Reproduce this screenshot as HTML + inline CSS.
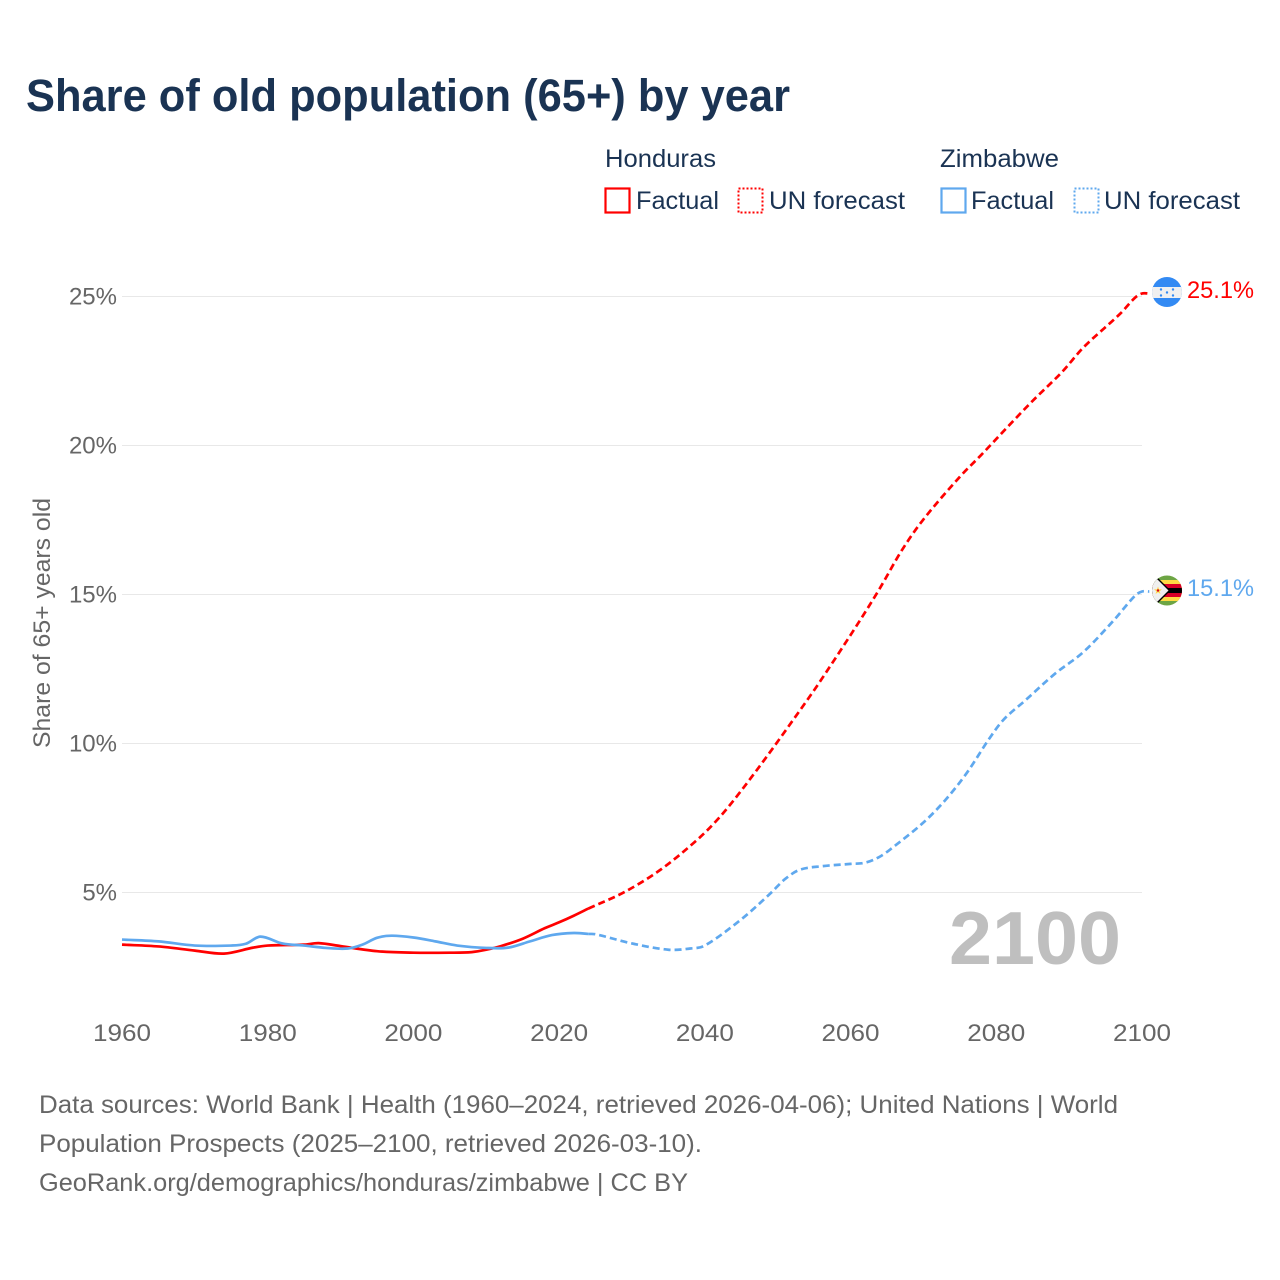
<!DOCTYPE html>
<html lang="en">
<head>
<meta charset="utf-8">
<title>Share of old population (65+) by year</title>
<style>
html,body{margin:0;padding:0;background:#fff;}
svg{display:block;font-family:"Liberation Sans",sans-serif;}
</style>
</head>
<body>
<svg id="chart" xmlns="http://www.w3.org/2000/svg" width="1280" height="1280" viewBox="0 0 1280 1280">
  <defs>
    <clipPath id="clip-hn"><circle cx="1167" cy="292" r="15"/></clipPath>
    <clipPath id="clip-zw"><circle cx="1167" cy="590.5" r="15"/></clipPath>
  </defs>
  <rect x="0" y="0" width="1280" height="1280" fill="#fff"/>
  <text x="26" y="111" font-size="45" font-weight="700" fill="#1a3353" textLength="764" lengthAdjust="spacingAndGlyphs">Share of old population (65+) by year</text>

  <g font-size="25" fill="#1a3353">
    <text x="605" y="167" textLength="111" lengthAdjust="spacingAndGlyphs">Honduras</text>
    <text x="940" y="167" textLength="119" lengthAdjust="spacingAndGlyphs">Zimbabwe</text>
    <rect x="605.5" y="188.5" width="24" height="24" fill="none" stroke="#ff0000" stroke-width="2.2"/>
    <text x="636" y="209" textLength="83" lengthAdjust="spacingAndGlyphs">Factual</text>
    <rect x="738.5" y="188.5" width="24" height="24" fill="none" stroke="#ff0000" stroke-width="2" stroke-dasharray="2 2"/>
    <text x="769" y="209" textLength="136" lengthAdjust="spacingAndGlyphs">UN forecast</text>
    <rect x="941.5" y="188.5" width="24" height="24" fill="none" stroke="#5fa8ee" stroke-width="2.2"/>
    <text x="971" y="209" textLength="83" lengthAdjust="spacingAndGlyphs">Factual</text>
    <rect x="1074.5" y="188.5" width="24" height="24" fill="none" stroke="#5fa8ee" stroke-width="2" stroke-dasharray="2 2"/>
    <text x="1104" y="209" textLength="136" lengthAdjust="spacingAndGlyphs">UN forecast</text>
  </g>

  <g id="grid"></g>
  <g id="yticks" font-size="24" fill="#666" text-anchor="end"></g>
  <g id="xticks" font-size="24" fill="#666" text-anchor="middle"></g>
  <text transform="translate(50,748) rotate(-90)" font-size="24" fill="#666" textLength="250" lengthAdjust="spacingAndGlyphs">Share of 65+ years old</text>
  <text x="949" y="964" font-size="75" font-weight="700" fill="#bfbfbf" textLength="172" lengthAdjust="spacingAndGlyphs">2100</text>

  <g id="series"></g>

  <g clip-path="url(#clip-hn)">
    <rect x="1152" y="277" width="30" height="30" fill="#338af3"/>
    <rect x="1152" y="287" width="30" height="11" fill="#f0f0f0"/>
    <circle cx="1167" cy="292.5" r="1.2" fill="#338af3"/>
    <circle cx="1161" cy="289.5" r="1.2" fill="#338af3"/>
    <circle cx="1173" cy="289.5" r="1.2" fill="#338af3"/>
    <circle cx="1161" cy="295.5" r="1.2" fill="#338af3"/>
    <circle cx="1173" cy="295.5" r="1.2" fill="#338af3"/>
  </g>
  <g clip-path="url(#clip-zw)">
    <rect x="1152" y="575" width="30" height="31" fill="#6da544"/>
    <rect x="1152" y="580" width="30" height="21" fill="#ffda44"/>
    <rect x="1152" y="584" width="30" height="13" fill="#d80027"/>
    <rect x="1152" y="588" width="30" height="5" fill="#000"/>
    <polygon points="1150,575 1155,575 1170.5,590.5 1155,606 1150,606" fill="#000"/>
    <polygon points="1150,575 1153,575 1168.5,590.5 1153,606 1150,606" fill="#f0f0f0"/>
    <polygon points="1158,586.5 1159,589.4 1162,589.4 1159.6,591.2 1160.5,594 1158,592.3 1155.5,594 1156.4,591.2 1154,589.4 1157,589.4" fill="#ffda44"/>
    <circle cx="1158" cy="590.5" r="1.2" fill="#d80027"/>
  </g>
  <text x="1187" y="298" font-size="24" fill="#ff0000" textLength="67" lengthAdjust="spacingAndGlyphs">25.1%</text>
  <text x="1187" y="596" font-size="24" fill="#5fa8ee" textLength="67" lengthAdjust="spacingAndGlyphs">15.1%</text>

  <g font-size="25" fill="#666">
    <text x="39" y="1113" textLength="1079" lengthAdjust="spacingAndGlyphs">Data sources: World Bank | Health (1960–2024, retrieved 2026-04-06); United Nations | World</text>
    <text x="39" y="1152" textLength="663" lengthAdjust="spacingAndGlyphs">Population Prospects (2025–2100, retrieved 2026-03-10).</text>
    <text x="39" y="1191" textLength="649" lengthAdjust="spacingAndGlyphs">GeoRank.org/demographics/honduras/zimbabwe | CC BY</text>
  </g>
</svg>
<script>
const xTickLabels = [1960, 1980, 2000, 2020, 2040, 2060, 2080, 2100];
const yTickLabels = [5, 10, 15, 20, 25];

const hondurasFactualYears = [1960,1965,1970,1974,1978,1980,1985,1987,1990,1995,2000,2005,2008,2010,2012,2015,2018,2020,2022,2024];
const hondurasFactualValues = [3.25,3.19,3.05,2.95,3.15,3.22,3.25,3.30,3.20,3.03,2.98,2.98,3.00,3.08,3.20,3.45,3.80,4.00,4.22,4.46];
const hondurasForecastYears = [2024,2029,2034,2039,2042,2045,2049,2054,2056,2061,2064,2067,2070,2075,2078,2081,2085,2089,2092,2097,2099,2100,2101];
const hondurasForecastValues = [4.46,5.02,5.78,6.78,7.52,8.42,9.73,11.44,12.15,14.02,15.20,16.47,17.52,18.95,19.70,20.48,21.50,22.46,23.30,24.42,24.95,25.10,25.10];

const zimbabweFactualYears = [1960,1965,1970,1975,1977,1979,1982,1985,1988,1991,1993,1995,1997,2000,2003,2006,2010,2013,2016,2019,2022,2024];
const zimbabweFactualValues = [3.42,3.36,3.22,3.22,3.28,3.52,3.29,3.22,3.14,3.12,3.25,3.48,3.55,3.49,3.36,3.22,3.14,3.15,3.36,3.57,3.64,3.61];
const zimbabweForecastYears = [2024,2025,2030,2035,2038,2040,2045,2049,2051,2053,2056,2060,2062,2064,2066,2070,2073,2076,2079,2081,2084,2088,2092,2096,2099,2100,2101];
const zimbabweForecastValues = [3.61,3.60,3.29,3.08,3.12,3.22,4.10,4.97,5.45,5.76,5.88,5.96,6.00,6.20,6.55,7.35,8.10,9.03,10.15,10.80,11.45,12.33,13.08,14.10,14.95,15.10,15.10];

const HONDURAS_COLOR = '#ff0000';
const ZIMBABWE_COLOR = '#5fa8ee';
const NS = 'http://www.w3.org/2000/svg';

function xScale(year) { return 122 + (year - 1960) * (1142 - 122) / 140; }
function yScale(pct) { return 892.5 - (pct - 5) * (892.5 - 296.5) / 20; }

function smoothPath(years, values) {
  const px = years.map(y => xScale(y));
  const py = values.map(v => yScale(v));
  const n = px.length;
  const slope = i => {
    const a = Math.max(i - 1, 0), b = Math.min(i + 1, n - 1);
    return (py[b] - py[a]) / (px[b] - px[a]);
  };
  let d = 'M' + px[0].toFixed(2) + ' ' + py[0].toFixed(2);
  for (let i = 0; i < n - 1; i++) {
    const dx = (px[i + 1] - px[i]) / 3;
    const c1x = px[i] + dx, c1y = py[i] + slope(i) * dx;
    const c2x = px[i + 1] - dx, c2y = py[i + 1] - slope(i + 1) * dx;
    d += 'C' + c1x.toFixed(2) + ' ' + c1y.toFixed(2) + ' ' + c2x.toFixed(2) + ' ' + c2y.toFixed(2) + ' ' + px[i + 1].toFixed(2) + ' ' + py[i + 1].toFixed(2);
  }
  return d;
}

const grid = document.getElementById('grid');
const yticks = document.getElementById('yticks');
const xticks = document.getElementById('xticks');
const series = document.getElementById('series');

yTickLabels.forEach(v => {
  const line = document.createElementNS(NS, 'line');
  
  
  line.setAttribute('x1', xScale(1960));
  line.setAttribute('x2', xScale(2100));
  line.setAttribute('y1', yScale(v));
  line.setAttribute('y2', yScale(v));
  line.setAttribute('stroke', '#e8e8e8');
  line.setAttribute('stroke-width', '1');
  grid.appendChild(line);

  const t = document.createElementNS(NS, 'text');
  
  
  t.setAttribute('x', 117);
  t.setAttribute('y', yScale(v) + 8);
  t.textContent = v + '%';
  yticks.appendChild(t);
});

xTickLabels.forEach(y => {
  const t = document.createElementNS(NS, 'text');
  
  
  t.setAttribute('x', xScale(y));
  t.setAttribute('y', 1041);
  t.setAttribute('textLength', 58);
  t.setAttribute('lengthAdjust', 'spacingAndGlyphs');
  t.textContent = y;
  xticks.appendChild(t);
});

function addLine(name, years, values, color, dashed) {
  const path = document.createElementNS(NS, 'path');
  
  
  path.setAttribute('d', smoothPath(years, values));
  path.setAttribute('fill', 'none');
  path.setAttribute('stroke', color);
  path.setAttribute('stroke-width', '2.7');
  path.setAttribute('stroke-linejoin', 'round');
  if (dashed) path.setAttribute('stroke-dasharray', '7 4');
  series.appendChild(path);
}

addLine('line-honduras-factual', hondurasFactualYears, hondurasFactualValues, HONDURAS_COLOR, false);
addLine('line-honduras-forecast', hondurasForecastYears, hondurasForecastValues, HONDURAS_COLOR, true);
addLine('line-zimbabwe-factual', zimbabweFactualYears, zimbabweFactualValues, ZIMBABWE_COLOR, false);
addLine('line-zimbabwe-forecast', zimbabweForecastYears, zimbabweForecastValues, ZIMBABWE_COLOR, true);
</script>
</body>
</html>
